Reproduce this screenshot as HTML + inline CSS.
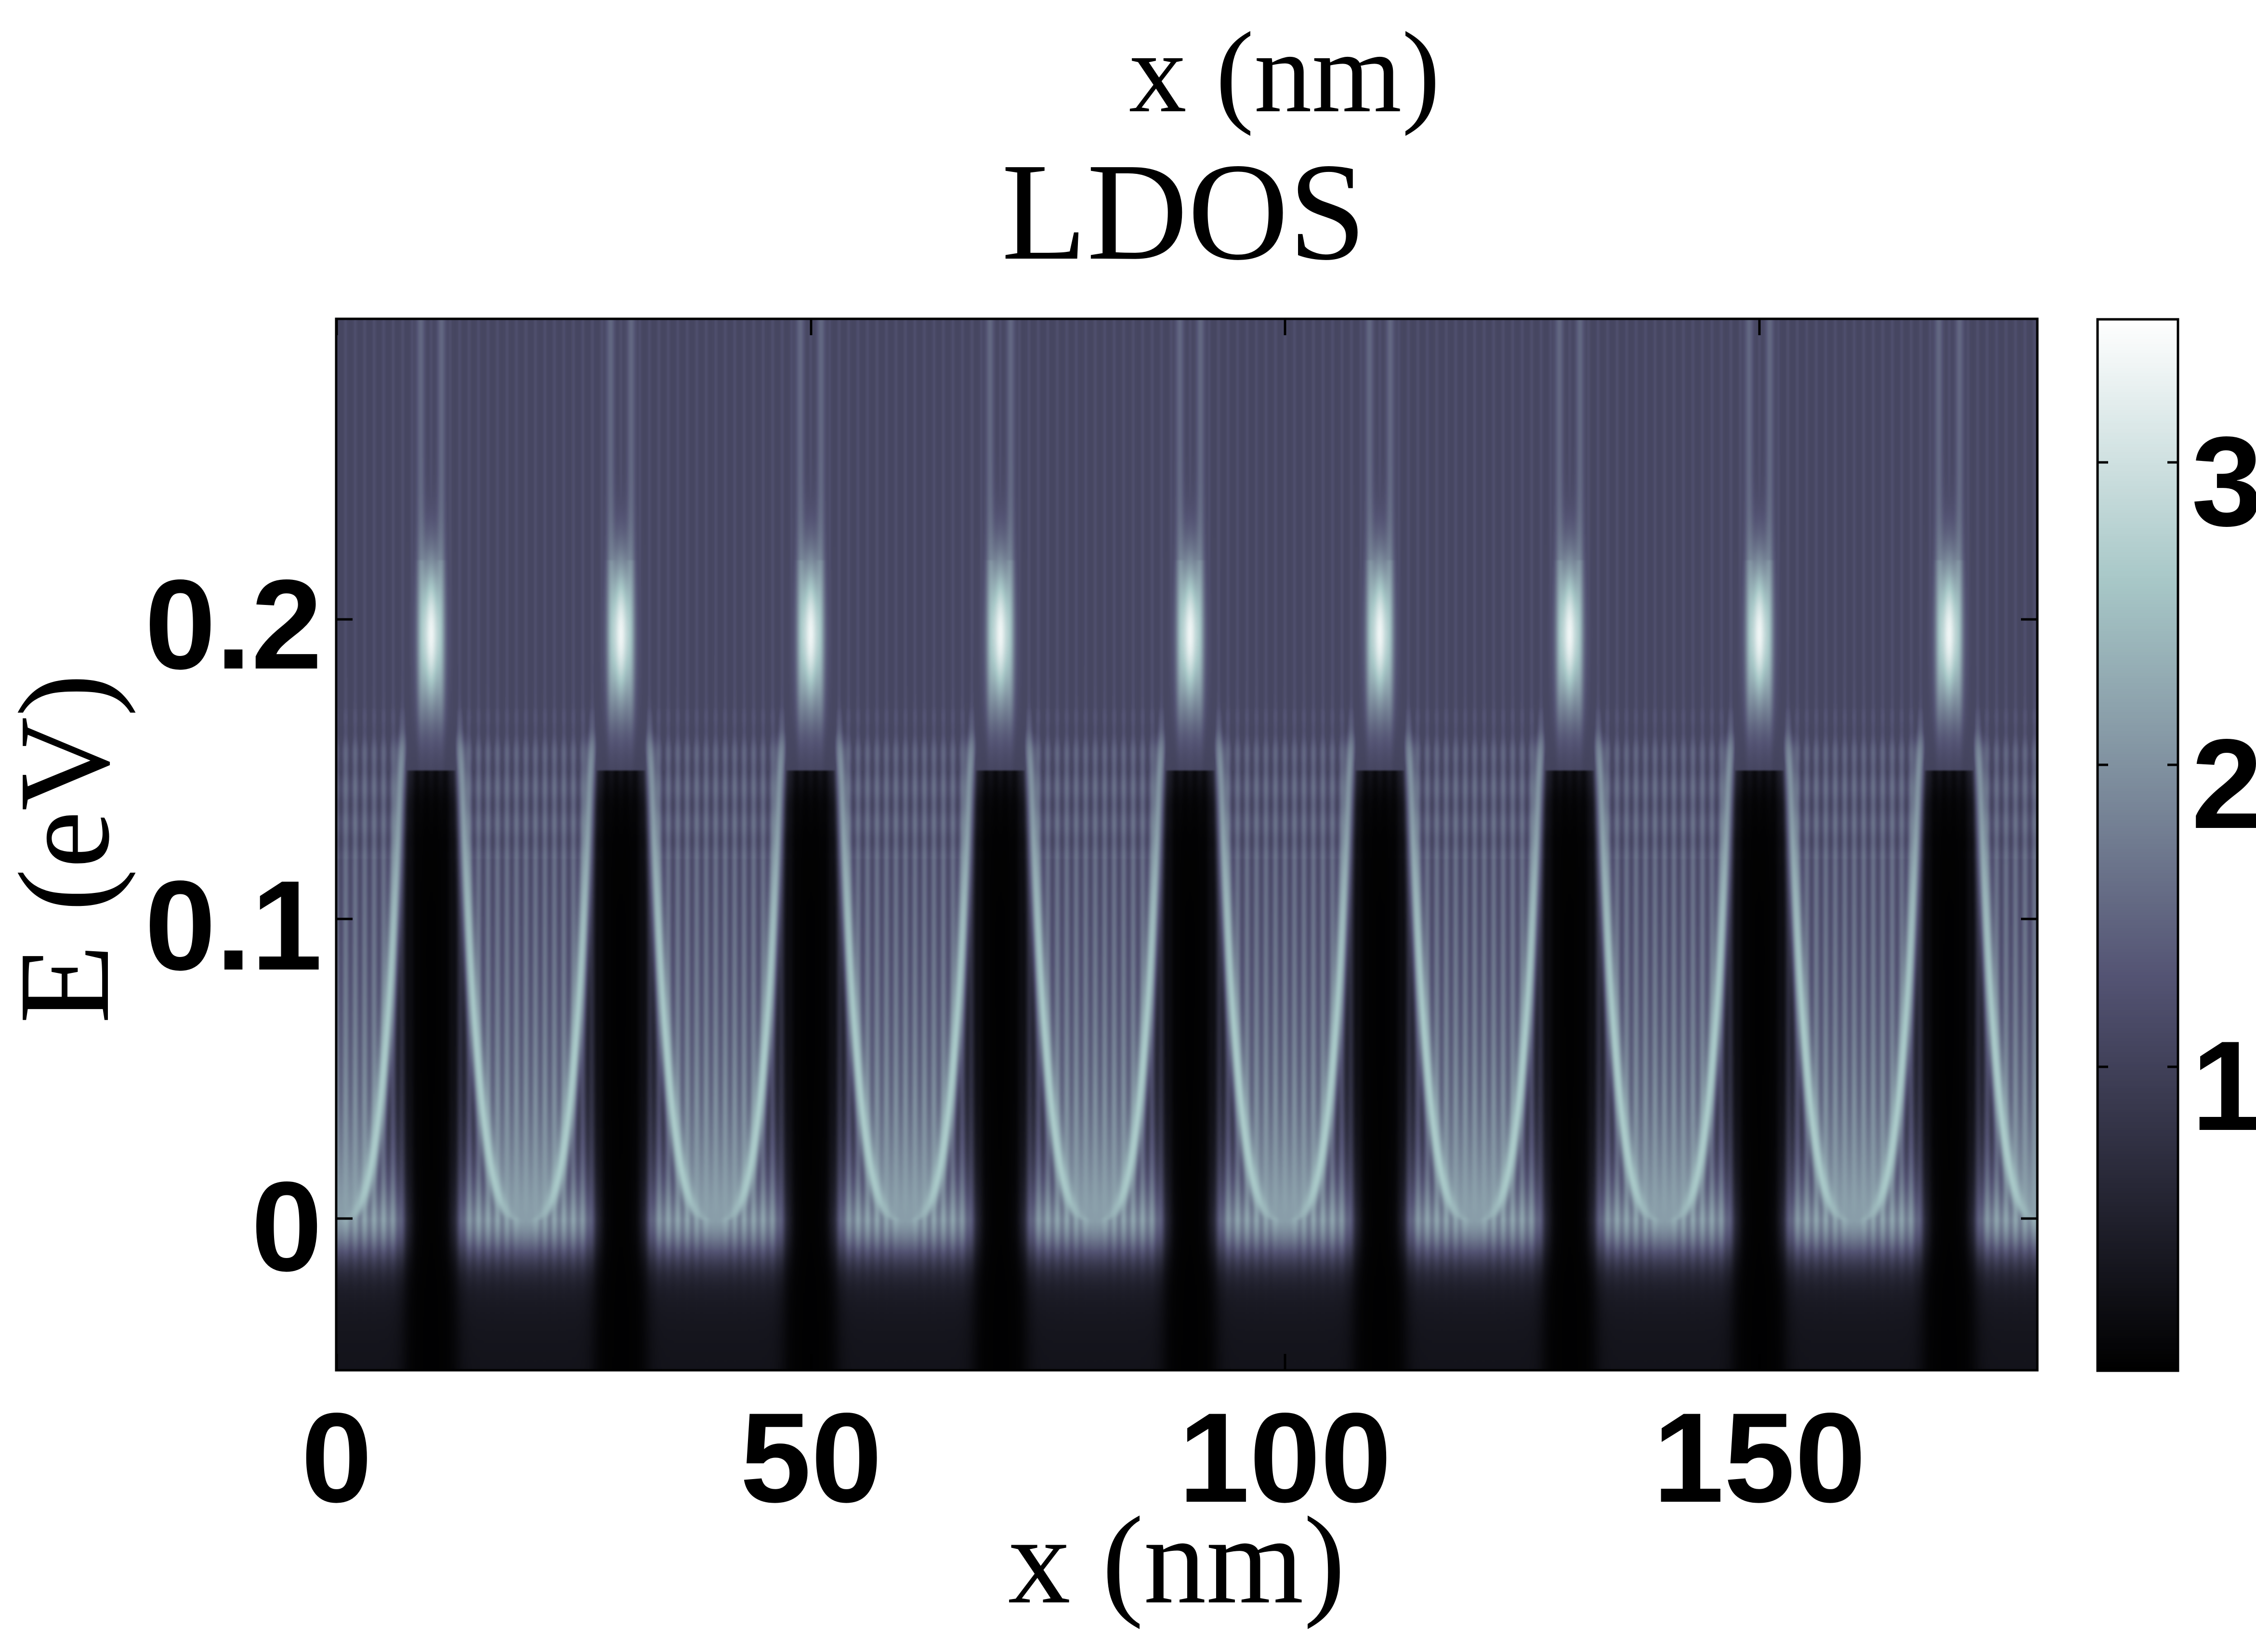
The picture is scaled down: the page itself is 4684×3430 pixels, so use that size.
<!DOCTYPE html>
<html><head><meta charset="utf-8"><style>
html,body{margin:0;padding:0;background:#fff;}
body{width:4684px;height:3430px;position:relative;overflow:hidden;}
canvas{position:absolute;}
.t{position:absolute;white-space:nowrap;line-height:1;}
.s{font-family:"Liberation Serif",serif;}
.b{font-family:"Liberation Sans",sans-serif;font-weight:bold;font-size:265px;}
</style></head><body>
<canvas id="hm" width="1440" height="440" style="left:698px;top:662px;width:3532px;height:2183px;"></canvas>
<canvas id="cb" width="1" height="400" style="left:4355px;top:663px;width:167px;height:2183px;"></canvas>
<svg width="4684" height="3430" style="position:absolute;left:0;top:0" xmlns="http://www.w3.org/2000/svg">
<g stroke="#000" stroke-width="5" fill="none">
<rect x="698" y="662" width="3532" height="2183"/>
<rect x="4355" y="663" width="167" height="2183"/>
<path d="M699 662v34M1684 662v34M2668 662v34M3653 662v34M699 2845v-34M1684 2845v-34M2668 2845v-34M3653 2845v-34
M698 2530h34M698 1908h34M698 1286h34M4230 2530h-34M4230 1908h-34M4230 1286h-34
M4355 960h22M4355 1588h22M4355 2215h22M4522 960h-22M4522 1588h-22M4522 2215h-22"/>
</g></svg>
<div class="t s" style="left:2667px;top:30px;font-size:240px;transform:translateX(-50%);">x (nm)</div>
<div class="t s" style="left:2458px;top:295px;font-size:290px;transform:translateX(-50%);">LDOS</div>
<div class="t s" style="left:2443px;top:3110px;font-size:260px;transform:translateX(-50%);">x (nm)</div>
<div class="t s" style="left:134px;top:1762px;font-size:270px;transform:translate(-50%,-50%) rotate(-90deg);">E (eV)</div>
<div class="t b" style="right:4015px;top:1165px;">0.2</div>
<div class="t b" style="right:4015px;top:1790px;">0.1</div>
<div class="t b" style="right:4015px;top:2415px;">0</div>
<div class="t b" style="left:699px;top:2895px;transform:translateX(-50%);">0</div>
<div class="t b" style="left:1684px;top:2895px;transform:translateX(-50%);">50</div>
<div class="t b" style="left:2668px;top:2895px;transform:translateX(-50%);">100</div>
<div class="t b" style="left:3653px;top:2895px;transform:translateX(-50%);">150</div>
<div class="t b" style="left:4550px;top:868px;">3</div>
<div class="t b" style="left:4550px;top:1496px;">2</div>
<div class="t b" style="left:4550px;top:2123px;">1</div>
<script>
function bone(t){t=Math.max(0,Math.min(1,t));
var hr=Math.min(1,t/0.375),hg=Math.max(0,Math.min(1,(t-0.375)/0.375)),hb=Math.max(0,Math.min(1,(t-0.75)/0.25));
return [Math.round(255*(7*t+hb)/8),Math.round(255*(7*t+hg)/8),Math.round(255*(7*t+hr)/8)];}
var VMAX=3.47;
function sig(z){return 1/(1+Math.exp(-z));}
function val(x,E){
 var s=x-20*Math.round(x/20); var a=Math.abs(s); var dw=10-a;
 var stripe=Math.cos(2*Math.PI*x/1.0);
 var top=1.08+0.15*stripe;
 var Ep=Math.max(E,0);
 var sArc=7.0*Math.pow(Math.min(Math.max(E,0.0002),0.16)/0.155,0.3);
 var inside=sig((sArc-a)/0.35);
 var fillIn=1.3+1.0*Math.exp(-Ep/0.05)+0.22*stripe*Math.min(1,Ep/0.04);
 var fillOut=0.8+1.4*Math.exp(-Ep/0.02)+0.22*stripe;
 var v = inside*fillIn+(1-inside)*fillOut;
 var up=sig((E-0.16)/0.004);
 v = v*(1-up)+top*up;
 if(E>0.12&&E<0.17) v+=0.06*Math.cos(2*Math.PI*E/0.012);
 var ln=Math.exp(-Math.pow((a-sArc)/0.65,2))*sig(E/0.003)*(1-up);
 v=v+(2.65-v)*ln;
 var low=sig((E+0.01)/0.0045);
 v = v*low + (0.28+0.15*sig((E+0.03)/0.01))*(1-low);
 var wellDepth = sig((0.156-E)/0.007);
 var wmask = sig((2.8-dw)/0.45);
 v = v*(1-wmask*wellDepth) + 0.02*wmask*wellDepth;
 if(E>0.15){
   var pk=2.2*Math.exp(-Math.pow((E-0.195)/0.025,2))*Math.exp(-Math.pow(dw/1.1,2));
   var side=0.55*Math.exp(-Math.pow((dw-1.1)/0.45,2))*sig((E-0.165)/0.006)*(E>0.22?0.75:1);
   v=Math.max(v,v*0.1+1.0+pk+side);
 }
 return v;}
var c=document.getElementById('hm'),ctx=c.getContext('2d');
var W=c.width,H=c.height,img=ctx.createImageData(W,H);
for(var j=0;j<H;j++){var E=0.30-(j+0.5)/H*0.35;
 for(var i=0;i<W;i++){var x=(i+0.5)/W*179.3;var col=bone(val(x,E)/VMAX);var k=4*(j*W+i);
 img.data[k]=col[0];img.data[k+1]=col[1];img.data[k+2]=col[2];img.data[k+3]=255;}}
ctx.putImageData(img,0,0);
var cb=document.getElementById('cb'),cx=cb.getContext('2d'),im2=cx.createImageData(1,400);
for(var j=0;j<400;j++){var col=bone(1-(j+0.5)/400);im2.data[4*j]=col[0];im2.data[4*j+1]=col[1];im2.data[4*j+2]=col[2];im2.data[4*j+3]=255;}
cx.putImageData(im2,0,0);
</script>
</body></html>
